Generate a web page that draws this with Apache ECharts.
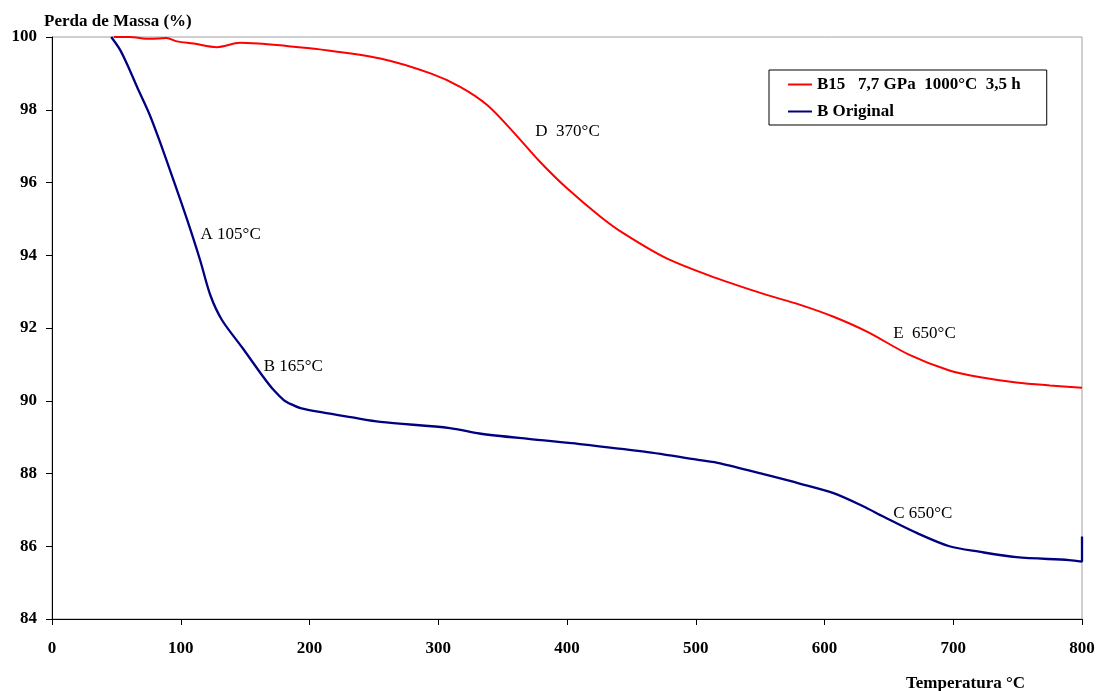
<!DOCTYPE html>
<html>
<head>
<meta charset="utf-8">
<script src="https://cdn.jsdelivr.net/npm/echarts@6/dist/echarts.min.js"></script>
<style>
  html, body { margin: 0; padding: 0; background: #fff; }
  #chart { width: 1098px; height: 691px; }
</style>
</head>
<body>
<div id="chart"></div>
<script>
// Thermogravimetric curves: mass (%) against temperature (°C)
const seriesNames = ['B15   7,7 GPa  1000°C  3,5 h', 'B Original'];

const tempB15 = [48, 60, 76, 89, 97, 110, 128, 146, 160, 177, 208, 255, 294, 317, 338, 358, 379, 400, 426, 444, 477, 516, 555, 580, 607, 633, 666, 697, 720, 749, 775, 800];
const massB15 = [100, 100, 99.95, 99.97, 99.88, 99.82, 99.72, 99.84, 99.82, 99.77, 99.66, 99.41, 99.0, 98.63, 98.13, 97.4, 96.57, 95.84, 95.06, 94.6, 93.92, 93.37, 92.91, 92.65, 92.31, 91.9, 91.26, 90.83, 90.65, 90.5, 90.42, 90.36];

const tempOrig = [46, 53, 60, 66, 76, 84, 94, 105, 115, 123, 132, 148, 164, 172, 180, 186, 193, 210, 232, 255, 309, 332, 370, 410, 460, 503, 519, 555, 580, 607, 630, 646, 672, 697, 720, 749, 790, 800, 800];
const massOrig = [100, 99.64, 99.12, 98.63, 97.85, 97.1, 96.1, 94.97, 93.87, 92.9, 92.22, 91.45, 90.66, 90.3, 90.02, 89.9, 89.8, 89.68, 89.55, 89.42, 89.25, 89.1, 88.95, 88.81, 88.6, 88.37, 88.28, 87.96, 87.73, 87.46, 87.1, 86.81, 86.36, 86.0, 85.85, 85.7, 85.62, 85.58, 86.27];

// Peak annotations
const notesB15 = ['D  370°C', 'E  650°C'];
const notesOrig = ['A 105°C', 'B 165°C', 'C 650°C'];

const xTicks = { min: 0, max: 800, step: 100 };
const yTicks = { min: 84, max: 100, step: 2 };

const serif = '"Liberation Serif", "Times New Roman", serif';

function pairs(xs, ys) { return xs.map((x, i) => [x, ys[i]]); }

function note(text, coord) {
  return {
    coord: coord,
    symbol: 'circle',
    symbolSize: 1,
    itemStyle: { color: 'rgba(0,0,0,0)' },
    label: {
      show: true, position: 'right', distance: 0, formatter: text,
      color: '#000', fontFamily: serif, fontSize: 17
    }
  };
}

const chart = echarts.init(document.getElementById('chart'), null, { renderer: 'canvas' });

chart.setOption({
  animation: false,
  backgroundColor: '#fff',
  title: [
    { text: 'Perda de Massa (%)', left: 39, top: 8,
      textStyle: { fontFamily: serif, fontSize: 17, fontWeight: 'bold', color: '#000' } },
    { text: 'Temperatura °C', left: 901, top: 670,
      textStyle: { fontFamily: serif, fontSize: 17, fontWeight: 'bold', color: '#000' } }
  ],
  grid: { left: 52, right: 16, top: 37, bottom: 72, show: true, borderColor: '#a0a0a0', borderWidth: 1, backgroundColor: 'transparent' },
  legend: {
    orient: 'vertical', left: 769, top: 70,
    padding: [6, 26, 5, 19], itemGap: 10,
    itemWidth: 24, itemHeight: 2, icon: 'rect',
    borderColor: '#000', borderWidth: 1, backgroundColor: '#fff',
    textStyle: { fontFamily: serif, fontSize: 17, fontWeight: 'bold', color: '#000' },
    data: seriesNames
  },
  xAxis: {
    type: 'value', min: xTicks.min, max: xTicks.max, interval: xTicks.step,
    axisLine: { show: true, lineStyle: { color: '#000', width: 1 } },
    axisTick: { show: true, length: 6, lineStyle: { color: '#000' } },
    splitLine: { show: false },
    axisLabel: { fontFamily: serif, fontSize: 17, fontWeight: 'bold', color: '#000', margin: 21 }
  },
  yAxis: {
    type: 'value', min: yTicks.min, max: yTicks.max, interval: yTicks.step,
    axisLine: { show: true, lineStyle: { color: '#000', width: 1 } },
    axisTick: { show: true, length: 6, lineStyle: { color: '#000' } },
    splitLine: { show: false },
    axisLabel: { fontFamily: serif, fontSize: 17, fontWeight: 'bold', color: '#000', margin: 15 }
  },
  series: [
    {
      name: seriesNames[0], type: 'line', showSymbol: false, smooth: 0.3,
      lineStyle: { color: '#ff0000', width: 2 }, itemStyle: { color: '#ff0000' },
      data: pairs(tempB15, massB15),
      markPoint: { silent: true, data: [note(notesB15[0], [375, 97.39]), note(notesB15[1], [653, 91.86])] }
    },
    {
      name: seriesNames[1], type: 'line', showSymbol: false, smooth: 0.3,
      lineStyle: { color: '#000080', width: 2.3 }, itemStyle: { color: '#000080' },
      data: pairs(tempOrig, massOrig),
      markPoint: { silent: true, data: [note(notesOrig[0], [115, 94.56]), note(notesOrig[1], [164, 90.93]), note(notesOrig[2], [653, 86.91])] }
    }
  ]
});
</script>
</body>
</html>
